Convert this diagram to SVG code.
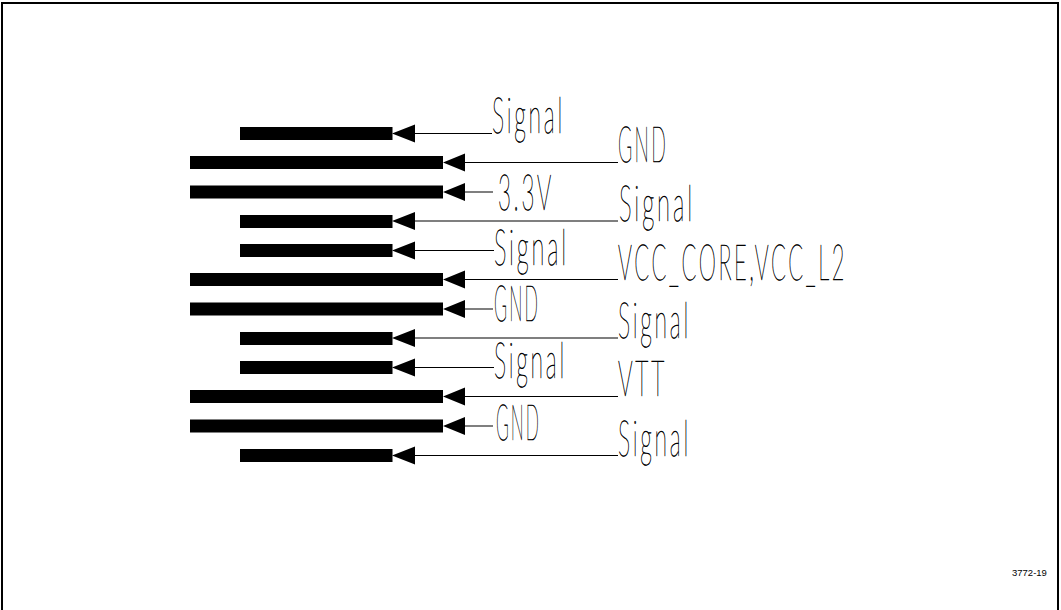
<svg xmlns="http://www.w3.org/2000/svg" width="1061" height="610" viewBox="0 0 1061 610">
<style>
.bar{fill:#000}
.ln{stroke:#000;stroke-width:1.2;fill:none}
.ah{fill:#000}
.t{font-family:"Lato","Roboto","Liberation Sans",sans-serif;font-weight:100;font-size:50px;letter-spacing:6px;fill:#000;stroke:#000;stroke-width:0.7px;text-rendering:geometricPrecision}
.ref{font-family:"Liberation Sans",Arial,sans-serif;font-size:9.500px;fill:#000}
#labels{opacity:.99}
</style>
<rect width="1061" height="610" fill="#fff"/>
<path d="M2 610V3H1058V610" fill="none" stroke="#000" stroke-width="2"/>
<g id="layers">
<rect id="layer-1" class="bar" x="240" y="127" width="152.500" height="13"/>
<rect id="layer-2" class="bar" x="190" y="156" width="253" height="13"/>
<rect id="layer-3" class="bar" x="190" y="185.500" width="253" height="13"/>
<rect id="layer-4" class="bar" x="240" y="215" width="152.500" height="13"/>
<rect id="layer-5" class="bar" x="240" y="244" width="152.500" height="13"/>
<rect id="layer-6" class="bar" x="190" y="273" width="253" height="13"/>
<rect id="layer-7" class="bar" x="190" y="302.500" width="253" height="13"/>
<rect id="layer-8" class="bar" x="240" y="332" width="152.500" height="13"/>
<rect id="layer-9" class="bar" x="240" y="361" width="152.500" height="13"/>
<rect id="layer-10" class="bar" x="190" y="390" width="253" height="13"/>
<rect id="layer-11" class="bar" x="190" y="419.500" width="253" height="13"/>
<rect id="layer-12" class="bar" x="240" y="449" width="152.500" height="13"/>
</g>
<g id="connectors">
<path class="ln" d="M415 133.500H492M465 162.500H618M465 192H493M415 221H618M415 250.500H494M465 279.500H618M465 309H493M415 338H618M415 367.500H494M465 396.500H618M465 426H493M415 455.500H618"/>
<path class="ah" d="M392 133.500L415 124.500V142.500ZM443 162.500L465 153.500V171.500ZM443 192L465 183V201ZM392 221L415 212V230ZM392 250.500L415 241.500V259.500ZM443 279.500L465 270.500V288.500ZM443 309L465 300V318ZM392 338L415 329V347ZM392 367.500L415 358.500V376.500ZM443 396.500L465 387.500V405.500ZM443 426L465 417V435ZM392 455.500L415 446.500V464.500Z"/>
</g>
<g id="labels">
<text class="t" x="492" y="133" textLength="73" lengthAdjust="spacingAndGlyphs">Signal</text>
<text class="t" x="618" y="162" textLength="50" lengthAdjust="spacingAndGlyphs">GND</text>
<text class="t" x="498" y="210" textLength="56" lengthAdjust="spacingAndGlyphs">3.3V</text>
<text class="t" x="619" y="221" textLength="76" lengthAdjust="spacingAndGlyphs">Signal</text>
<text class="t" x="494" y="265" textLength="75" lengthAdjust="spacingAndGlyphs">Signal</text>
<text class="t" x="618" y="280" textLength="229" lengthAdjust="spacingAndGlyphs">VCC_CORE,VCC_L2</text>
<text class="t" x="494" y="321" textLength="46" lengthAdjust="spacingAndGlyphs">GND</text>
<text class="t" x="618" y="338" textLength="73" lengthAdjust="spacingAndGlyphs">Signal</text>
<text class="t" x="494" y="378" textLength="73" lengthAdjust="spacingAndGlyphs">Signal</text>
<text class="t" x="618" y="396" textLength="49" lengthAdjust="spacingAndGlyphs">VTT</text>
<text class="t" x="496" y="440" textLength="45" lengthAdjust="spacingAndGlyphs">GND</text>
<text class="t" x="618" y="456" textLength="73" lengthAdjust="spacingAndGlyphs">Signal</text>
<text class="ref" x="1012" y="576">3772-19</text>
</g>
</svg>
